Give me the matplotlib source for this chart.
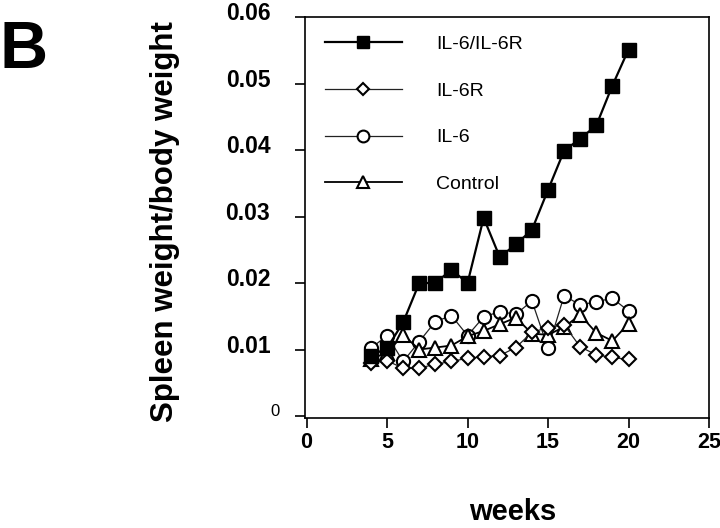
import numpy as np
import matplotlib.pyplot as plt
import matplotlib.transforms as mtransforms

plt.rcParams['font.family'] = ['Liberation Sans', 'DejaVu Sans']

# weeks and spleen/body weight ratio per group
weeks = [4, 5, 6, 7, 8, 9, 10, 11, 12, 13, 14, 15, 16, 17, 18, 19, 20]
il6_il6r = [0.0091, 0.0102, 0.0141, 0.0200, 0.0200, 0.0220, 0.0200, 0.0298,
            0.0239, 0.0258, 0.0280, 0.0340, 0.0399, 0.0417, 0.0437, 0.0497, 0.0551]
il6r = [0.0080, 0.0083, 0.0072, 0.0072, 0.0078, 0.0082, 0.0087, 0.0089,
        0.0091, 0.0103, 0.0126, 0.0133, 0.0137, 0.0104, 0.0092, 0.0088, 0.0085]
il6 = [0.0102, 0.0121, 0.0082, 0.0112, 0.0142, 0.0151, 0.0121, 0.0149,
       0.0157, 0.0153, 0.0173, 0.0102, 0.0181, 0.0167, 0.0172, 0.0177, 0.0158]
control = [0.0086, 0.0095, 0.0122, 0.0100, 0.0103, 0.0106, 0.0120, 0.0128,
           0.0138, 0.0148, 0.0124, 0.0122, 0.0134, 0.0152, 0.0125, 0.0113, 0.0139]

fig = plt.figure(figsize=(7.2, 5.28), dpi=100)
ax = fig.add_axes([0.4236, 0.2083, 0.5611, 0.7595])

ax.plot(weeks, il6_il6r, color='black', lw=1.6, marker='s', ms=9.5,
        mfc='black', mec='black', label='IL-6/IL-6R', zorder=5)
ax.plot(weeks, il6r, color='#222222', lw=0.9, marker='D', ms=7,
        mfc='white', mec='black', mew=1.5, label='IL-6R', zorder=4)
ax.plot(weeks, il6, color='#222222', lw=0.9, marker='o', ms=9.5,
        mfc='white', mec='black', mew=1.5, label='IL-6', zorder=3)
ax.plot(weeks, control, color='black', lw=1.3, marker='^', ms=9.5,
        mfc='white', mec='black', mew=1.5, label='Control', zorder=3)

ax.set_xlim(-0.1, 25)
ax.set_ylim(-0.0003, 0.06)
ax.set_xticks([0, 5, 10, 15, 20, 25])
ax.set_yticks([0, 0.01, 0.02, 0.03, 0.04, 0.05, 0.06])
ax.set_yticklabels(['0', '0.01', '0.02', '0.03', '0.04', '0.05', '0.06'])
ax.tick_params(direction='out', length=7, width=1.2, labelsize=16.5)
ax.tick_params(axis='x', pad=3, labelsize=15.5)
ax.tick_params(axis='y', pad=18)
for lab in ax.get_xticklabels() + ax.get_yticklabels():
    lab.set_fontweight('bold')
up = mtransforms.ScaledTranslation(0, 4 / 72, fig.dpi_scale_trans)
for lab in ax.get_yticklabels():
    lab.set_transform(lab.get_transform() + up)
zero = ax.get_yticklabels()[0]
zero.set_fontsize(12)
zero.set_fontweight('normal')
zero.set_transform(zero.get_transform() + mtransforms.ScaledTranslation(7 / 72, 0, fig.dpi_scale_trans))
for sp in ax.spines.values():
    sp.set_linewidth(1.2)

fig.text(0.7125, 0.016, 'weeks', fontsize=21, fontweight='bold', ha='center', va='baseline')
fig.text(0.229, 0.5795, 'Spleen weight/body weight', fontsize=22.5, fontweight='bold',
         rotation=90, ha='center', va='center')

leg = ax.legend(loc='upper left', bbox_to_anchor=(0.005, 0.998), frameon=False,
                fontsize=14, handlelength=4.0, handletextpad=1.75, labelspacing=1.5)
for h, ms in zip(leg.legend_handles, [9, 6, 8.5, 8.5]):
    h.set_markersize(ms)

fig.text(0.0, 0.871, 'B', fontsize=48, fontweight='bold', va='baseline', ha='left')

fig.savefig('out.png', dpi=100)
